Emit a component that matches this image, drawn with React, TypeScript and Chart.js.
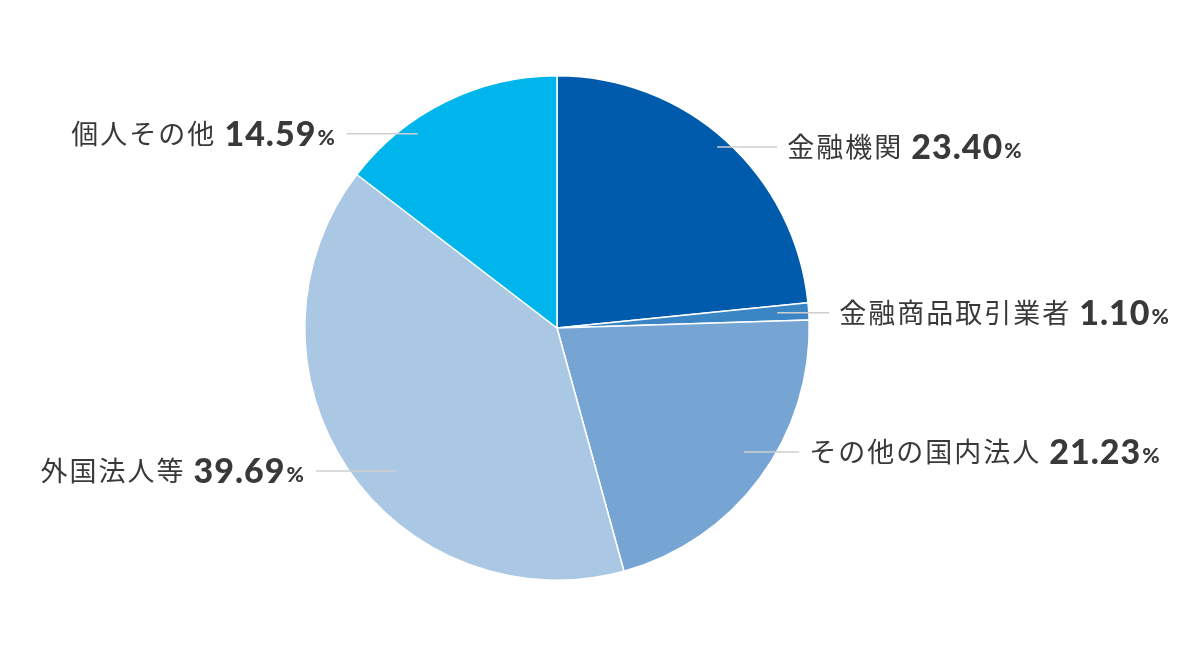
import { useEffect, useRef } from 'react';
import { Chart, registerables, Plugin } from 'chart.js';

Chart.register(...registerables);

// Shareholder composition (%)
const categories = ['金融機関', '金融商品取引業者', 'その他の国内法人', '外国法人等', '個人その他'];
const shares = [23.4, 1.1, 21.23, 39.69, 14.59];
const sliceColors = ['#005bac', '#3a85c4', '#76a5d3', '#aac8e4', '#00b5ec'];

// label anchor relative to pie centre, in radius units; side = which way the leader goes
const labelLayout = [
  { ax: 0.635, ay: -0.718, len: 60, side: 1 },
  { ax: 0.873, ay: -0.06, len: 52, side: 1 },
  { ax: 0.742, ay: 0.492, len: 55, side: 1 },
  { ax: -0.639, ay: 0.567, len: 80, side: -1 },
  { ax: -0.552, ay: -0.77, len: 71, side: -1 }
];

const TEXT_COLOR = '#3a3838';
const NAME_FONT = '400 27px "Noto Sans CJK JP", sans-serif';
const NUM_FONT = '900 34px Lato, "Noto Sans", sans-serif';
const PCT_FONT = '900 21px Lato, "Noto Sans", sans-serif';

const calloutPlugin: Plugin<'pie'> = {
  id: 'callouts',
  afterDraw(chart) {
    const ctx = chart.ctx;
    const meta = chart.getDatasetMeta(0);
    meta.data.forEach((el: any, i) => {
      const { x, y, outerRadius } = el.getProps(['x', 'y', 'outerRadius'], true);
      const lay = labelLayout[i];
      const sx = x + lay.ax * outerRadius;
      const sy = y + lay.ay * outerRadius;
      const ex = sx + lay.side * lay.len;

      ctx.save();
      ctx.strokeStyle = '#cfcfcf';
      ctx.lineWidth = 1.5;
      ctx.beginPath();
      ctx.moveTo(sx, sy);
      ctx.lineTo(ex, sy);
      ctx.stroke();

      const name = categories[i] + ' ';
      const num = shares[i].toFixed(2);
      ctx.textBaseline = 'middle';
      ctx.fillStyle = TEXT_COLOR;
      (ctx as any).letterSpacing = '2px';
      ctx.font = NAME_FONT;
      const wName = ctx.measureText(name).width;
      (ctx as any).letterSpacing = '1px';
      ctx.font = NUM_FONT;
      const wNum = ctx.measureText(num).width;
      (ctx as any).letterSpacing = '0px';
      ctx.font = PCT_FONT;
      const wPct = ctx.measureText('%').width;
      const total = wName + wNum + wPct + 1;

      let tx = lay.side > 0 ? ex + 10 : ex - 12 - total;
      (ctx as any).letterSpacing = '2px';
      ctx.font = NAME_FONT;
      ctx.textAlign = 'left';
      ctx.fillText(name, tx, sy);
      tx += wName;
      (ctx as any).letterSpacing = '1px';
      ctx.font = NUM_FONT;
      ctx.fillText(num, tx, sy + 1);
      tx += wNum + 1;
      (ctx as any).letterSpacing = '0px';
      ctx.font = PCT_FONT;
      ctx.fillText('%', tx, sy + 4);
      ctx.restore();
    });
  }
};

const App = () => {
  const canvasRef = useRef<HTMLCanvasElement | null>(null);
  const chartRef = useRef<Chart | null>(null);

  useEffect(() => {
    if (!canvasRef.current) return;
    if (chartRef.current) chartRef.current.destroy();

    chartRef.current = new Chart(canvasRef.current, {
      type: 'pie',
      data: {
        labels: categories,
        datasets: [
          {
            data: shares,
            backgroundColor: sliceColors,
            borderColor: '#ffffff',
            borderWidth: 1.5
          }
        ]
      },
      options: {
        responsive: true,
        maintainAspectRatio: false,
        animation: false,
        layout: { padding: { left: 304, right: 390, top: 75, bottom: 77 } },
        plugins: {
          legend: { display: false },
          tooltip: { enabled: false }
        }
      },
      plugins: [calloutPlugin]
    });

    return () => {
      chartRef.current?.destroy();
      chartRef.current = null;
    };
  }, []);

  return (
    <div style={{ position: 'fixed', left: 0, top: 0, width: 1200, height: 658, background: '#fff' }}>
      <canvas ref={canvasRef} />
    </div>
  );
};

export default App;
